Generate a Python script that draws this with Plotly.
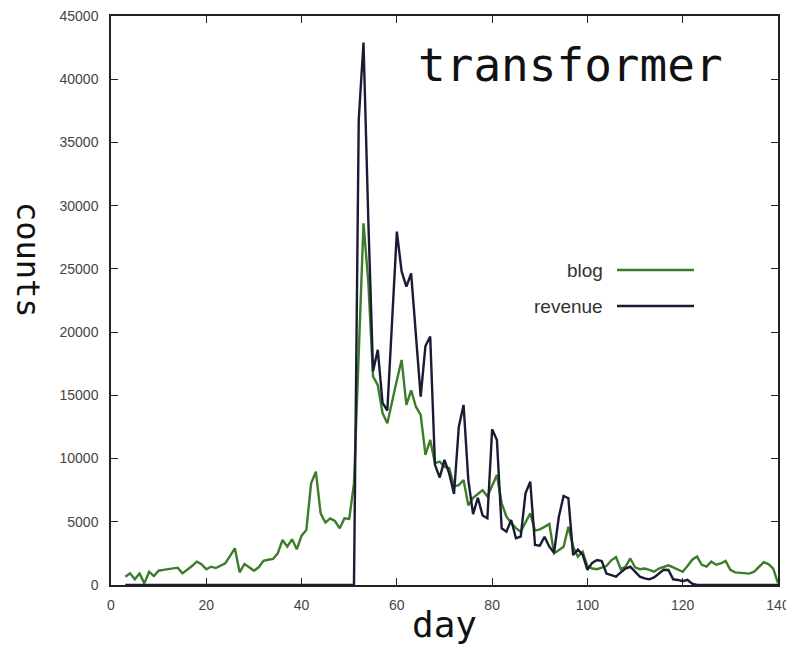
import plotly.graph_objects as go

days = list(range(3, 141))

blog = [
    650, 920, 450, 920, 130, 1050, 710, 1130, 1200, 1250,          # 3-12
    1300, 1370, 920, 1200, 1500, 1840, 1650, 1240, 1450, 1340,     # 13-22
    1500, 1720, 2300, 2900, 1000, 1660, 1400, 1130, 1400, 1920,    # 23-32
    2000, 2060, 2500, 3560, 3030, 3610, 2820, 3900, 4350, 8040,    # 33-42
    8960, 5670, 4930, 5270, 5060, 4480, 5270, 5220, 8040, 18000,   # 43-52
    28600, 24000, 16500, 15800, 13600, 12800, 14600, 16200, 17800, 14240,  # 53-62
    15400, 14100, 13450, 10300, 11470, 9630, 9750, 9360, 9230, 7800,      # 63-72
    7900, 8300, 6300, 6900, 7200, 7500, 7000, 7800, 8700, 6460,    # 73-82
    5400, 4900, 4500, 4220, 4900, 5670, 4300, 4400, 4600, 4830,    # 83-92
    2500, 2800, 3030, 4610, 3030, 2240, 2630, 1500, 1300, 1250,    # 93-102
    1350, 1500, 1950, 2200, 1250, 1450, 2100, 1400, 1250, 1300,    # 103-112
    1200, 1050, 1300, 1450, 1550, 1400, 1200, 1050, 1500, 2000,    # 113-122
    2250, 1600, 1450, 1850, 1600, 1700, 1900, 1200, 1000, 950,     # 123-132
    950, 900, 1050, 1400, 1800, 1650, 1300, 150,                   # 133-140
]

revenue = [0] * 48 + [                                             # 3-50
    0, 36800, 42900, 29000, 16900, 18600, 14400, 13800, 21000, 27950,     # 51-60
    24800, 23600, 24650, 19500, 14900, 18900, 19640, 9500, 8500, 9900,    # 61-70
    8800, 7200, 12500, 14240, 8300, 5600, 6900, 5500, 5280, 12320,        # 71-80
    11470, 4480, 4220, 5140, 3700, 3820, 7250, 8170, 3160, 3110,          # 81-90
    3820, 3030, 2560, 5400, 7040, 6860, 2370, 2800, 2400, 1200,           # 91-100
    1750, 1980, 1900, 900, 750, 660, 1000, 1300, 1450, 1050,              # 101-110
    660, 530, 450, 600, 900, 1200, 1190, 450, 400, 300,                   # 111-120
    400, 100, 0, 0, 0, 0, 0, 0, 0, 0,                                     # 121-130
    0, 0, 0, 0, 0, 0, 0, 0, 0, 0,                                         # 131-140
]

x_ticks = [0, 20, 40, 60, 80, 100, 120, 140]
y_ticks = [0, 5000, 10000, 15000, 20000, 25000, 30000, 35000, 40000, 45000]

GREEN = "#3c7d2b"
NAVY = "#1b1b35"

fig = go.Figure()
fig.add_trace(go.Scatter(x=days, y=blog, mode="lines", name="blog",
                         line=dict(color=GREEN, width=2.4)))
fig.add_trace(go.Scatter(x=days, y=revenue, mode="lines", name="revenue",
                         line=dict(color=NAVY, width=2.4)))

axis_common = dict(showgrid=False, zeroline=False, showline=True, linecolor="#222",
                   linewidth=1.5, mirror="ticks", ticks="inside", ticklen=7,
                   tickcolor="#222", tickwidth=1.2, automargin=False,
                   ticklabeloverflow="allow",
                   tickfont=dict(family="Liberation Sans, Arial", size=14, color="#444"))

# page has an 8px body margin, so the figure is sized/offset to compensate
fig.update_layout(
    width=786, height=638,
    margin=dict(l=103, r=16, t=8, b=61),
    paper_bgcolor="white", plot_bgcolor="white",
    showlegend=False,
    xaxis=dict(range=[0, 140], tickvals=x_ticks, tickformat="d", ticklabelstandoff=6, **axis_common),
    yaxis=dict(range=[0, 45000], tickvals=y_ticks, tickformat="d", ticklabelstandoff=8, **axis_common),
)

PW, PH = 778 - 111, 585 - 16
def px(xp):
    return (xp - 111) / PW
def py(yp):
    return (585 - yp) / PH

mono = "DejaVu Sans Mono"
# axis titles
fig.add_annotation(text="day", xref="paper", yref="paper", x=px(444), y=py(624),
                   xanchor="center", yanchor="middle", showarrow=False,
                   font=dict(family=mono, size=36, color="#111"))
fig.add_annotation(text="counts", xref="paper", yref="paper", x=px(28), y=py(260),
                   xanchor="center", yanchor="middle", showarrow=False, textangle=90,
                   font=dict(family=mono, size=32, color="#111"))

# Title inside plot
fig.add_annotation(text="transformer", xref="paper", yref="paper", x=px(570), y=py(65),
                   xanchor="center", yanchor="middle", showarrow=False,
                   font=dict(family=mono, size=46, color="#111"))

# Gnuplot-style legend (text right, line sample)
leg_font = dict(family="Liberation Sans, Arial", size=19, color="#333")
for label, color, ypix in [("blog", GREEN, 270), ("revenue", NAVY, 306)]:
    fig.add_annotation(text=label, xref="paper", yref="paper", x=px(605), y=py(ypix),
                       xanchor="right", yanchor="middle", showarrow=False, font=leg_font)
    fig.add_shape(type="line", xref="paper", yref="paper",
                  x0=px(617), x1=px(694), y0=py(ypix), y1=py(ypix),
                  line=dict(color=color, width=2.6))

fig.write_html("out.html")
